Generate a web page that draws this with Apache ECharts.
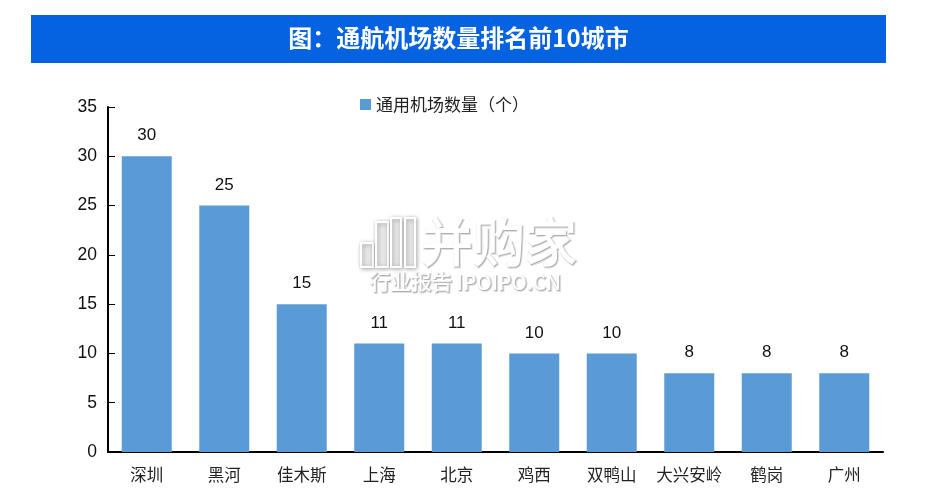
<!DOCTYPE html>
<html lang="zh">
<head>
    <meta charset="UTF-8">
    <title>通航机场数量排名前10城市</title>
    <script src="https://cdn.jsdelivr.net/npm/echarts@6/dist/echarts.min.js"></script>
    <style>
        html, body { margin: 0; padding: 0; background: #fff; }
        #chart { width: 933px; height: 503px; }
    </style>
</head>
<body>
<div id="chart"></div>
<script>
    const cities = ['深圳', '黑河', '佳木斯', '上海', '北京', '鸡西', '双鸭山', '大兴安岭', '鹤岗', '广州'];
    const airportCounts = [30, 25, 15, 11, 11, 10, 10, 8, 8, 8];
    const seriesName = '通用机场数量（个）';
    const yTicks = { min: 0, max: 35, interval: 5 };

    const cjk = '"Noto Sans CJK SC", sans-serif';
    const latin = '"Liberation Sans", Arial, sans-serif';
    const markShadow = { shadowColor: 'rgba(0,0,0,0.4)', shadowBlur: 4, shadowOffsetX: 1, shadowOffsetY: 1 };

    // outlined logo bar of the watermark
    function logoBar(x, y, w, h) {
        return {
            type: 'rect', z: 20, shape: { x: x, y: y, width: w, height: h },
            style: Object.assign({ fill: 'rgba(255,255,255,0.55)', stroke: '#fff', lineWidth: 2 }, markShadow)
        };
    }

    // watermark text: a soft grey copy under a white one
    function markText(text, x, y, size) {
        const base = { text: text, verticalAlign: 'middle', fontFamily: cjk, fontSize: size, fontWeight: 500 };
        return [
            { type: 'text', z: 20, x: x + 1, y: y + 1, style: Object.assign({ fill: 'rgba(120,120,120,0.45)', stroke: 'rgba(150,150,150,0.3)', lineWidth: 2 }, base) },
            { type: 'text', z: 21, x: x, y: y, style: Object.assign({ fill: '#fff' }, base) }
        ];
    }

    const myChart = echarts.init(document.getElementById('chart'));
    myChart.setOption({
        animation: false,
        grid: { left: 108, right: 50, top: 107, bottom: 51 },
        legend: {
            top: 91, left: 355, itemWidth: 11, itemHeight: 11, itemGap: 6, icon: 'rect',
            textStyle: { fontFamily: cjk, fontSize: 17, color: '#222' }
        },
        xAxis: {
            type: 'category', data: cities,
            axisLine: { lineStyle: { color: '#000', width: 2 } },
            axisTick: { inside: true, length: 7, lineStyle: { color: '#000', width: 1 } },
            axisLabel: { fontFamily: cjk, fontSize: 16.5, color: '#222', margin: 14, interval: 0 }
        },
        yAxis: {
            type: 'value', min: yTicks.min, max: yTicks.max, interval: yTicks.interval,
            splitLine: { show: false },
            axisLine: { show: true, lineStyle: { color: '#000', width: 2 } },
            axisTick: { show: true, inside: true, length: 7, lineStyle: { color: '#000', width: 1 } },
            axisLabel: { fontFamily: latin, fontSize: 17.5, color: '#111', margin: 11, padding: [4, 0, 0, 0] }
        },
        series: [{
            name: seriesName, type: 'bar', data: airportCounts, barWidth: 50,
            itemStyle: { color: '#5B9BD5' },
            label: { show: true, position: 'top', distance: 12, fontFamily: latin, fontSize: 17, color: '#111' }
        }],
        graphic: [
            { type: 'rect', z: 10, shape: { x: 31, y: 15, width: 855, height: 48 }, style: { fill: '#0562E0' } },
            {
                type: 'text', z: 11, x: 458.5, y: 38,
                style: {
                    text: '图：通航机场数量排名前10城市', fill: '#fff', align: 'center', verticalAlign: 'middle',
                    fontFamily: cjk, fontSize: 24, fontWeight: 'bold'
                }
            },
            logoBar(361, 243, 12, 24),
            logoBar(376, 222, 12, 45),
            logoBar(391, 218, 10, 49),
            logoBar(405, 218, 10, 49)
        ].concat(markText('并购家', 421, 242, 52), markText('行业报告 IPOIPO.CN', 370, 282, 20.5))
    });
</script>
</body>
</html>
